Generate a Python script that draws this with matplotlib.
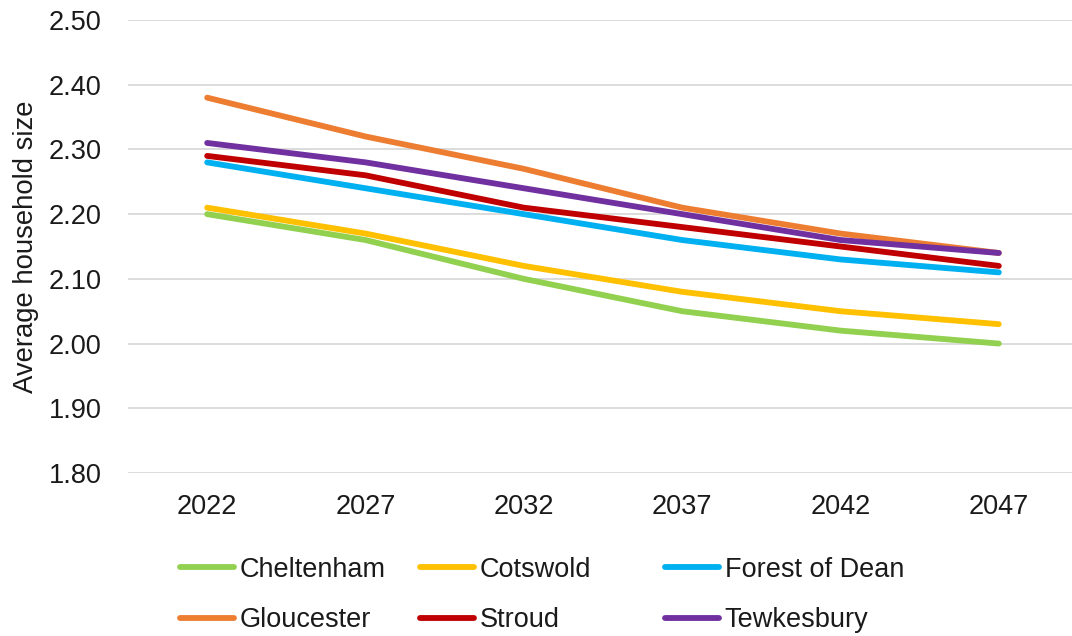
import matplotlib
matplotlib.use("Agg")
import matplotlib.pyplot as plt

# Average household size projections by district
years = ["2022", "2027", "2032", "2037", "2042", "2047"]
cheltenham = [2.20, 2.16, 2.10, 2.05, 2.02, 2.00]
cotswold = [2.21, 2.17, 2.12, 2.08, 2.05, 2.03]
forest_of_dean = [2.28, 2.24, 2.20, 2.16, 2.13, 2.11]
gloucester = [2.38, 2.32, 2.27, 2.21, 2.17, 2.14]
stroud = [2.29, 2.26, 2.21, 2.18, 2.15, 2.12]
tewkesbury = [2.31, 2.28, 2.24, 2.20, 2.16, 2.14]

series = [
    ("Cheltenham", cheltenham, "#92D050"),
    ("Cotswold", cotswold, "#FFC000"),
    ("Forest of Dean", forest_of_dean, "#00B0F0"),
    ("Gloucester", gloucester, "#ED7D31"),
    ("Stroud", stroud, "#C00000"),
    ("Tewkesbury", tewkesbury, "#7030A0"),
]

plt.rcParams["font.family"] = ["Liberation Sans", "DejaVu Sans"]

W, H = 1072, 636
fig = plt.figure(figsize=(W / 100, H / 100), dpi=100)
ax = fig.add_axes([128 / W, 1 - 473 / H, (1078 - 128) / W, (473 - 20) / H])

x = range(len(years))
lines = {}
for name, vals, color in series:
    (ln,) = ax.plot(x, vals, color=color, lw=4.2, solid_capstyle="round",
                    solid_joinstyle="round", label=name, zorder=3)
    lines[name] = ln

ax.set_xlim(-0.5, len(years) - 0.5)
ax.set_ylim(1.80, 2.50)
ax.set_xticks(list(x))
ax.set_xticklabels(years)
ax.set_yticks([1.8 + 0.1 * i for i in range(8)])
ax.yaxis.set_major_formatter(matplotlib.ticker.FormatStrFormatter("%.2f"))
ax.tick_params(axis="both", length=0, labelsize=19.5, labelcolor="#1a1a1a")
ax.tick_params(axis="x", pad=15)
ax.tick_params(axis="y", pad=19)
ax.grid(axis="y", color="#D9D9D9", lw=1.3, zorder=0)
for sp in ax.spines.values():
    sp.set_visible(False)

ax.set_ylabel("Average household size", fontsize=19.8, color="#1a1a1a")
ax.yaxis.set_label_coords(-0.094, 0.5)

# legend laid out as three fixed columns of two entries
columns = [("Cheltenham", "Gloucester"), ("Cotswold", "Stroud"),
           ("Forest of Dean", "Tewkesbury")]
col_x = [180, 420, 665]
for names, cx in zip(columns, col_x):
    leg = fig.legend([lines[n] for n in names], names, loc="center left",
                     bbox_to_anchor=(cx / W, 1 - 595 / H), frameon=False,
                     fontsize=19.5, handlelength=2.0, handletextpad=0.2,
                     labelspacing=0.92, borderpad=0, borderaxespad=0)
    for t in leg.get_texts():
        t.set_color("#1a1a1a")

fig.savefig("out.png", dpi=100)
